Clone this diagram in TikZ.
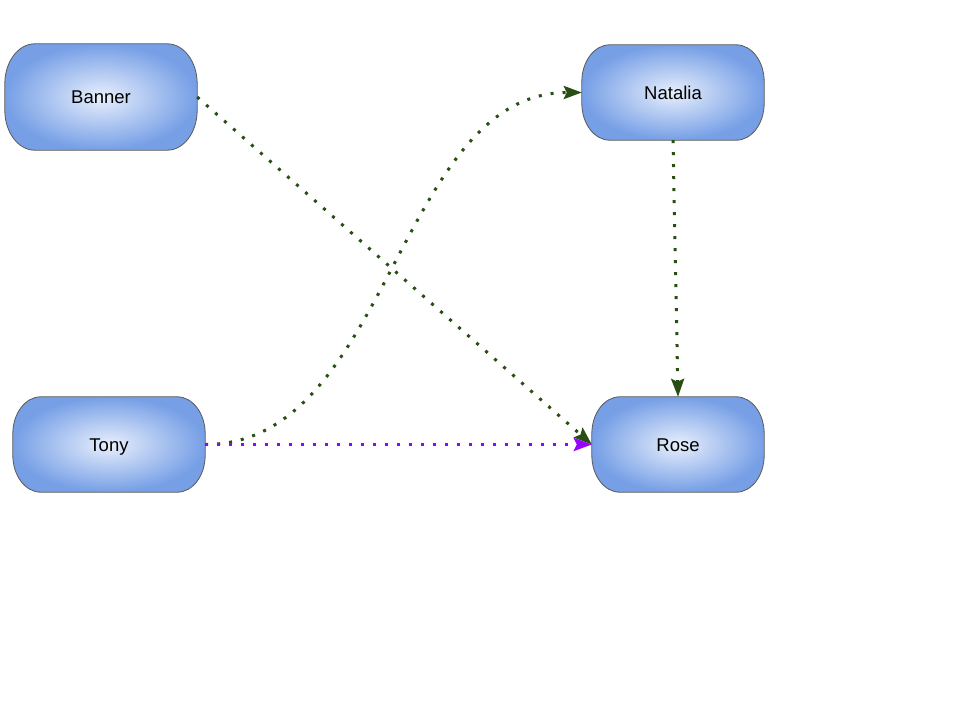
\documentclass[tikz,border=0pt]{standalone}
\usepackage{fontspec}
\setmainfont{Liberation Sans}
\usetikzlibrary{arrows.meta,calc,backgrounds}
\definecolor{edgegreen}{HTML}{274E13}
\definecolor{edgepurple}{HTML}{9900FF}
\definecolor{boxout}{HTML}{769FE6}
\definecolor{boxin}{HTML}{E8EFFC}
\definecolor{boxline}{HTML}{595959}
\tikzset{
  pilltext/.style={inner sep=0pt, text height=13.2pt, text depth=0pt,
    font=\fontsize{18.5}{22}\selectfont},
  pillshape/.style={draw=boxline, line width=0.8pt,
    shade, inner color=boxin, outer color=boxout},
  conn/.style={line width=3pt, dash pattern=on 3pt off 9pt,
    -{Stealth[length=18pt,width=13pt,inset=3pt]}},
  greenconn/.style={conn, draw=edgegreen},
  purpleconn/.style={conn, draw=edgepurple}
}
% #1 node name, #2 horizontal radius, #3 vertical radius (pt)
\newcommand\pillbox[3]{%
  \path[pillshape] let \p1=(#1.north west), \p2=(#1.south east) in
    (\x1+#2pt,\y1) -- (\x2-#2pt,\y1)
    .. controls (\x2-0.4477*#2pt,\y1) and (\x2,\y1-0.4477*#3pt) .. (\x2,\y1-#3pt)
    -- (\x2,\y2+#3pt)
    .. controls (\x2,\y2+0.4477*#3pt) and (\x2-0.4477*#2pt,\y2) .. (\x2-#2pt,\y2)
    -- (\x1+#2pt,\y2)
    .. controls (\x1+0.4477*#2pt,\y2) and (\x1,\y2+0.4477*#3pt) .. (\x1,\y2+#3pt)
    -- (\x1,\y1-#3pt)
    .. controls (\x1,\y1-0.4477*#3pt) and (\x1+0.4477*#2pt,\y1) .. cycle;}
\begin{document}
\begin{tikzpicture}[x=1pt,y=-1pt]
\useasboundingbox (0,0) rectangle (960,720);
\node[pilltext, minimum width=192pt, minimum height=106pt] (Banner) at (101,97) {Banner};
\node[pilltext, minimum width=182pt, minimum height=95pt] (Natalia) at (673,92.5) {Natalia};
\node[pilltext, minimum width=192pt, minimum height=95pt] (Tony) at (109,444.5) {Tony};
\node[pilltext, minimum width=172pt, minimum height=95pt] (Rose) at (678,444.5) {Rose};
\begin{scope}[on background layer]
\pillbox{Banner}{30}{40}
\pillbox{Natalia}{28}{37}
\pillbox{Tony}{28}{37}
\pillbox{Rose}{28}{37}
\end{scope}
\draw[greenconn] (Banner.east) -- (Rose.west);
\draw[greenconn] (Tony.east) .. controls +(185,0) and +(-185,0) .. (Natalia.west);
\draw[greenconn] (Natalia.south) -- (Rose.north);
\draw[purpleconn] (Tony.east) -- (Rose.west);
\end{tikzpicture}
\end{document}
